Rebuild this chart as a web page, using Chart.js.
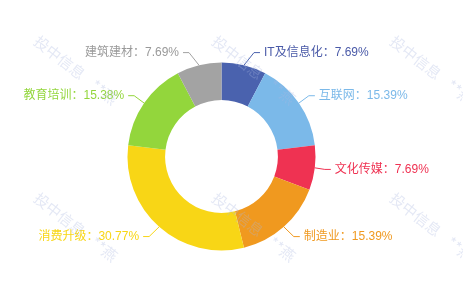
<!DOCTYPE html>
<html>
<head>
<meta charset="utf-8">
<script src="https://cdn.jsdelivr.net/npm/chart.js@4.4.0/dist/chart.umd.min.js"></script>
<style>
  html, body { margin: 0; padding: 0; background: #fff; }
  #wrap { width: 463px; height: 284px; position: relative; }
</style>
</head>
<body>
<div id="wrap"><canvas id="industryChart" width="463" height="284"></canvas></div>
<script>
var industries = ['IT及信息化', '互联网', '文化传媒', '制造业', '消费升级', '教育培训', '建筑建材'];
var shares = [7.69, 15.39, 7.69, 15.39, 30.77, 15.38, 7.69];
var sliceColors = ['#4a62ae', '#7bb9e9', '#ef3252', '#f0991f', '#f8d616', '#93d63c', '#a3a3a3'];
var labelColors = ['#4a5aa8', '#7bb9e9', '#ef3252', '#f0991f', '#f8d616', '#93d63c', '#999999'];
var watermarkText = '投中信息';
var watermarkUser = '**燕';

var FONT = '"Liberation Sans", "Noto Sans CJK SC", sans-serif';

// labels with leader lines, placed from each arc's own geometry
var sliceLabels = {
  id: 'sliceLabels',
  afterDatasetsDraw: function(chart) {
    var ctx = chart.ctx;
    var arcs = chart.getDatasetMeta(0).data;
    ctx.save();
    ctx.font = '12px ' + FONT;
    ctx.lineWidth = 1;
    arcs.forEach(function(arc, i) {
      var p = arc.getProps(['x', 'y', 'startAngle', 'endAngle', 'outerRadius'], true);
      var mid = (p.startAngle + p.endAngle) / 2;
      var cos = Math.cos(mid), sin = Math.sin(mid);
      var side = cos >= 0 ? 1 : -1;
      var ox = p.x + cos * p.outerRadius, oy = p.y + sin * p.outerRadius;
      var ex = ox + side * 10, ey = oy + sin * 13;
      var tx = ex + side * 6;
      ctx.strokeStyle = sliceColors[i];
      ctx.beginPath();
      ctx.moveTo(ox, oy);
      ctx.lineTo(ex, ey);
      ctx.lineTo(tx, ey);
      ctx.stroke();
      ctx.fillStyle = labelColors[i];
      ctx.textAlign = side > 0 ? 'left' : 'right';
      ctx.textBaseline = 'middle';
      ctx.fillText(industries[i] + '：' + shares[i].toFixed(2) + '%', tx + side * 4, ey);
    });
    ctx.restore();
  }
};

var watermark = {
  id: 'watermark',
  afterDraw: function(chart) {
    var ctx = chart.ctx;
    var angle = 38 * Math.PI / 180;
    ctx.save();
    ctx.font = '15px "Noto Sans CJK SC", sans-serif';
    ctx.fillStyle = 'rgba(170, 185, 225, 0.32)';
    ctx.textAlign = 'left';
    ctx.textBaseline = 'middle';
    for (var row = 0; row < 2; row++) {
      for (var col = 0; col < 3; col++) {
        ctx.save();
        ctx.translate(36 + col * 178, 39 + row * 157);
        ctx.rotate(angle);
        ctx.fillText(watermarkText, 0, 0);
        ctx.fillText(watermarkUser, 72, 0);
        ctx.restore();
      }
    }
    ctx.restore();
  }
};

new Chart(document.getElementById('industryChart'), {
  type: 'doughnut',
  data: {
    labels: industries,
    datasets: [{
      data: shares,
      backgroundColor: sliceColors,
      borderWidth: 0
    }]
  },
  options: {
    responsive: false,
    maintainAspectRatio: false,
    devicePixelRatio: 1,
    animation: false,
    cutout: '60%',
    layout: { padding: { left: 100, right: 120, top: 62.5, bottom: 33.5 } },
    plugins: { legend: { display: false }, tooltip: { enabled: false } }
  },
  plugins: [sliceLabels, watermark]
});
</script>
</body>
</html>
